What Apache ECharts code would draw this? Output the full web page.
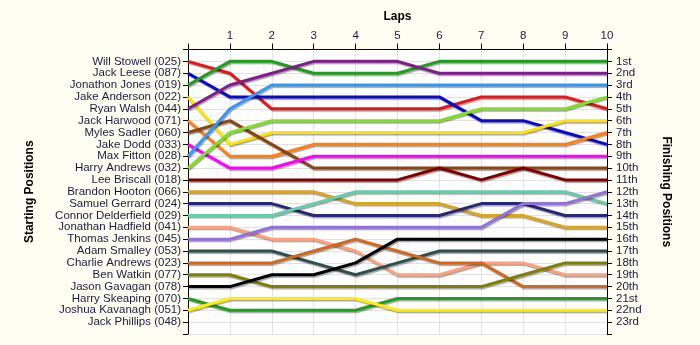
<!DOCTYPE html>
<html>
<head>
<meta charset="utf-8">
<script src="https://cdn.jsdelivr.net/npm/echarts@6/dist/echarts.min.js"></script>
<style>
html,body{margin:0;padding:0;background:#FFFEF3;}
#chart{width:700px;height:345px;}
</style>
</head>
<body>
<div id="chart"></div>
<script>
// ---- Data ----
const laps = [0,1,2,3,4,5,6,7,8,9,10];
const lapLabels = ['', '1','2','3','4','5','6','7','8','9','10'];
const riders = [
  'Will Stowell (025)','Jack Leese (087)','Jonathon Jones (019)','Jake Anderson (022)',
  'Ryan Walsh (044)','Jack Harwood (071)','Myles Sadler (060)','Jake Dodd (033)',
  'Max Fitton (028)','Harry Andrews (032)','Lee Briscall (018)','Brandon Hooton (066)',
  'Samuel Gerrard (024)','Connor Delderfield (029)','Jonathan Hadfield (041)','Thomas Jenkins (045)',
  'Adam Smalley (053)','Charlie Andrews (023)','Ben Watkin (077)','Jason Gavagan (078)',
  'Harry Skeaping (070)','Joshua Kavanagh (051)','Jack Phillips (048)'
];
const finishLabels = ['1st','2nd','3rd','4th','5th','6th','7th','8th','9th','10th','11th','12th',
  '13th','14th','15th','16th','17th','18th','19th','20th','21st','22nd','23rd'];

// position of each rider at laps 0..10
const willStowell      = [1,2,5,5,5,5,5,4,4,4,5];
const jackLeese        = [2,4,4,4,4,4,4,6,6,7,8];
const jonathonJones    = [3,1,1,2,2,2,1,1,1,1,1];
const jakeAnderson     = [4,8,7,7,7,7,7,7,7,6,6];
const ryanWalsh        = [5,3,2,1,1,1,2,2,2,2,2];
const jackHarwood      = [6,9,9,8,8,8,8,8,8,8,7];
const mylesSadler      = [7,6,8,10,10,10,10,10,10,10,10];
const jakeDodd         = [8,10,10,9,9,9,9,9,9,9,9];
const maxFitton        = [9,5,3,3,3,3,3,3,3,3,3];
const harryAndrews     = [10,7,6,6,6,6,6,5,5,5,4];
const leeBriscall      = [11,11,11,11,11,11,10,11,10,11,11];
const brandonHooton    = [12,12,12,12,13,13,13,14,14,15,15];
const samuelGerrard    = [13,13,13,14,14,14,14,13,13,14,14];
const connorDelderfield= [14,14,14,13,12,12,12,12,12,12,13];
const jonathanHadfield = [15,15,16,16,17,19,19,18,18,19,19];
const thomasJenkins    = [16,16,15,15,15,15,15,15,13,13,12];
const adamSmalley      = [17,17,17,18,19,18,17,17,17,17,17];
const charlieAndrews   = [18,18,18,17,16,17,18,18,20,20,20];
const benWatkin        = [19,19,20,20,20,20,20,20,19,18,18];
const jasonGavagan     = [20,20,19,19,18,16,16,16,16,16,16];
const harrySkeaping    = [21,22,22,22,22,21,21,21,21,21,21];
const joshuaKavanagh   = [22,21,21,21,21,22,22,22,22,22,22];
const jackPhillips     = [];

const riderPositions = [willStowell, jackLeese, jonathonJones, jakeAnderson, ryanWalsh, jackHarwood,
  mylesSadler, jakeDodd, maxFitton, harryAndrews, leeBriscall, brandonHooton, samuelGerrard,
  connorDelderfield, jonathanHadfield, thomasJenkins, adamSmalley, charlieAndrews, benWatkin,
  jasonGavagan, harrySkeaping, joshuaKavanagh, jackPhillips];

const riderColors = ['#E8161B','#0A0ACC','#1E9E1E','#FFE400','#801C8C','#FF8010','#8B4513','#FF00FF',
  '#3399F5','#80E020','#800000','#DAA520','#282878','#66CDAA','#FFA07A','#9370DB',
  '#2F4F4F','#D2691E','#808000','#000000','#1EA01E','#FFEE00','#FFFFFF'];

// ---- Chart ----
const textColor = '#1a1a3c';
const font = 'Liberation Sans';
const chart = echarts.init(document.getElementById('chart'));

const series = riderPositions.map((arr, i) => ({
  name: riders[i],
  type: 'line',
  data: arr.map((p, k) => [laps[k], p]),
  symbol: 'none',
  lineStyle: {
    width: 3,
    color: riderColors[i],
    shadowColor: 'rgba(0,0,0,0.35)',
    shadowBlur: 1,
    shadowOffsetX: 1,
    shadowOffsetY: 1.5
  },
  z: 2
}));

const gridLine = { show: true, lineStyle: { color: '#E2E2E2', width: 1 } };

chart.setOption({
  animation: false,
  backgroundColor: '#FFFEF3',
  grid: { left: 188, right: 93, top: 49.5, bottom: 11, show: true, backgroundColor: '#FFFFFF', borderWidth: 0 },
  xAxis: {
    type: 'value', position: 'top', min: 0, max: 10, interval: 1,
    name: 'Laps', nameLocation: 'middle', nameGap: 27,
    nameTextStyle: { fontFamily: font, fontWeight: 'bold', fontSize: 12, color: '#000' },
    axisLine: { show: true, lineStyle: { color: '#000', width: 1 } },
    axisTick: { show: true, length: 6, lineStyle: { color: '#000' } },
    axisLabel: { formatter: v => lapLabels[v] || '', fontFamily: font, fontSize: 11.5, color: textColor, margin: 8 },
    splitLine: gridLine
  },
  yAxis: [{
    type: 'value', position: 'left', inverse: true, min: 0, max: 24, interval: 1,
    name: 'Starting Positions', nameLocation: 'middle', nameGap: 152,
    nameTextStyle: { fontFamily: font, fontWeight: 'bold', fontSize: 12, color: '#000' },
    axisLine: { show: true, lineStyle: { color: '#000', width: 1 } },
    axisTick: { show: true, length: 5, lineStyle: { color: '#000' } },
    axisLabel: { formatter: v => riders[v - 1] || '', fontFamily: font, fontSize: 11.5, color: textColor, margin: 7 },
    splitLine: gridLine
  }, {
    type: 'value', position: 'right', inverse: true, min: 0, max: 24, interval: 1,
    name: 'Finishing Positions', nameLocation: 'middle', nameGap: 53, nameRotate: -90,
    nameTextStyle: { fontFamily: font, fontWeight: 'bold', fontSize: 12, color: '#000' },
    axisLine: { show: true, lineStyle: { color: '#000', width: 1 } },
    axisTick: { show: true, length: 5, lineStyle: { color: '#000' } },
    axisLabel: { formatter: v => finishLabels[v - 1] || '', fontFamily: font, fontSize: 11.5, color: textColor, margin: 9 },
    splitLine: { show: false }
  }],
  series: series
});
</script>
</body>
</html>
